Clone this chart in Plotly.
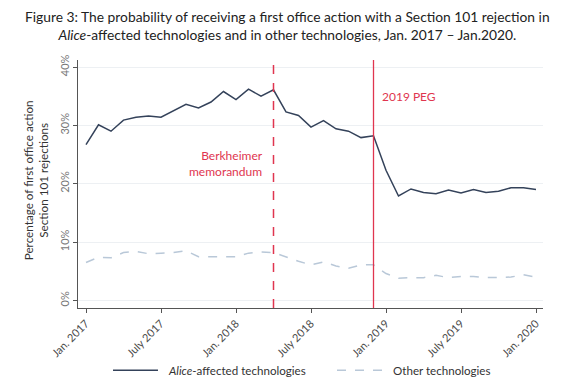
import plotly.graph_objects as go

# ---- data ----
month_index = list(range(37))  # Jan 2017 .. Jan 2020, monthly
alice_pct = [26.7, 30.1, 29.0, 30.9, 31.4, 31.6, 31.4, 32.5, 33.6, 33.0,
             34.0, 35.8, 34.4, 36.2, 35.0, 36.1, 32.3, 31.7, 29.7, 30.8,
             29.4, 29.0, 27.9, 28.2, 22.3, 17.9, 19.1, 18.5, 18.3, 18.9,
             18.4, 19.0, 18.5, 18.7, 19.3, 19.3, 19.0]
other_pct = [6.5, 7.4, 7.3, 8.2, 8.4, 8.0, 8.1, 8.2, 8.5, 7.5,
             7.5, 7.5, 7.5, 8.1, 8.3, 8.2, 7.4, 6.7, 6.1, 6.6,
             5.9, 5.5, 6.1, 6.1, 4.6, 3.8, 3.9, 3.9, 4.3, 3.9,
             4.1, 4.1, 3.9, 3.9, 4.0, 4.4, 4.0]
tick_positions = [0, 6, 12, 18, 24, 30, 36]
tick_labels = ["Jan. 2017", "July 2017", "Jan. 2018", "July 2018",
               "Jan. 2019", "July 2019", "Jan. 2020"]
y_ticks = [0, 10, 20, 30, 40]
y_tick_labels = ["0%", "10%", "20%", "30%", "40%"]
berkheimer_month = 15
peg_month = 23
series_names = ["<i>Alice</i>-affected technologies", "Other technologies"]

FONT = "Lato"
RED = "#e0354f"
ALICE_COLOR = "#34425a"
OTHER_COLOR = "#b9c8d8"

fig = go.Figure()
fig.add_trace(go.Scatter(
    x=month_index, y=alice_pct, mode="lines", name=series_names[0],
    line=dict(color=ALICE_COLOR, width=1.5)))
fig.add_trace(go.Scatter(
    x=month_index, y=other_pct, mode="lines", name=series_names[1],
    line=dict(color=OTHER_COLOR, width=1.5, dash="dash")))

fig.add_shape(type="line", xref="x", yref="paper", x0=berkheimer_month, x1=berkheimer_month,
              y0=0, y1=1, line=dict(color=RED, width=1.5, dash="dash"))
fig.add_shape(type="line", xref="x", yref="paper", x0=peg_month, x1=peg_month,
              y0=0, y1=1, line=dict(color=RED, width=1.3))

fig.add_annotation(x=berkheimer_month, y=23.4, xref="x", yref="y",
                   text="Berkheimer<br>memorandum", showarrow=False,
                   xanchor="right", yanchor="middle", xshift=-9, align="right",
                   font=dict(family=FONT, size=12, color=RED))
fig.add_annotation(x=peg_month, y=34.9, xref="x", yref="y",
                   text="2019 PEG", showarrow=False,
                   xanchor="left", yanchor="middle", xshift=6,
                   font=dict(family=FONT, size=12, color=RED))

fig.add_annotation(x=-0.0925, y=0.515, xref="paper", yref="paper",
                   text="Percentage of first office action<br>Section 101 rejections",
                   showarrow=False, textangle=-90, xanchor="center", yanchor="middle",
                   font=dict(family=FONT, size=11.7, color="#333333"))

fig.add_annotation(x=0.4516, y=1.141, xref="paper", yref="paper",
                   text="Figure 3: The probability of receiving a first office action with a Section 101 rejection in<br>"
                        "<i>Alice</i>-affected technologies and in other technologies, Jan. 2017 – Jan.2020.",
                   showarrow=False, xanchor="center", yanchor="middle", align="center",
                   font=dict(family=FONT, size=13.8, color="#222222"))

# legend (drawn below the plot, Stata style)
legend_y = -0.2515
fig.add_shape(type="line", xref="paper", yref="paper", x0=0.0753, x1=0.172,
              y0=legend_y, y1=legend_y, line=dict(color=ALICE_COLOR, width=1.5))
fig.add_annotation(x=0.189, y=legend_y, xref="paper", yref="paper", text=series_names[0],
                   showarrow=False, xanchor="left", yanchor="middle",
                   font=dict(family=FONT, size=11.6, color="#333333"))
fig.add_shape(type="line", xref="paper", yref="paper", x0=0.557, x1=0.660,
              y0=legend_y, y1=legend_y, line=dict(color=OTHER_COLOR, width=1.5, dash="dash"))
fig.add_annotation(x=0.673, y=legend_y, xref="paper", yref="paper", text=series_names[1],
                   showarrow=False, xanchor="left", yanchor="middle",
                   font=dict(family=FONT, size=11.6, color="#333333"))

fig.update_layout(
    width=576, height=387,
    margin=dict(l=78, r=33, t=60, b=79, autoexpand=False),
    paper_bgcolor="white", plot_bgcolor="white",
    font=dict(family=FONT, color="#444444"),
    xaxis=dict(range=[-0.64, 36.56], tickvals=tick_positions, ticktext=tick_labels,
               tickangle=-45, showgrid=False, zeroline=False, showline=True,
               linecolor="#555555", linewidth=1, ticks="outside", ticklen=4,
               tickcolor="#555555", automargin=False,
               tickfont=dict(family=FONT, size=11, color="#4a4a4a")),
    yaxis=dict(range=[-1.3, 41.2], tickvals=y_ticks, ticktext=y_tick_labels,
               tickangle=-90, showgrid=True, gridcolor="#edf0f3", gridwidth=1,
               zeroline=False, showline=True, linecolor="#555555", linewidth=1,
               ticks="outside", ticklen=4, tickcolor="#555555", automargin=False,
               tickfont=dict(family=FONT, size=11, color="#777777")),
    showlegend=False,
)

fig.write_html("out.html", config={"displayModeBar": False},
               post_script="document.body.style.margin='0px';")
